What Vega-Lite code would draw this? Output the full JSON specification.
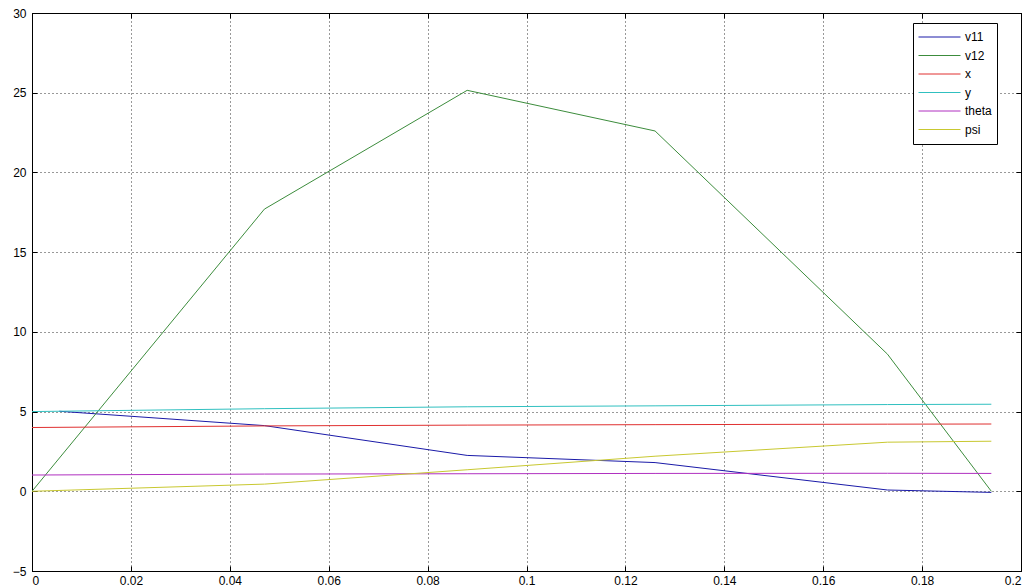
{
  "$schema": "https://vega.github.io/schema/vega-lite/v6.json",
  "width": 989,
  "height": 558,
  "autosize": {"type": "none"},
  "padding": {"left": 32, "top": 13, "right": 8, "bottom": 17},
  "background": "white",
  "config": {
    "view": {"stroke": "black", "strokeWidth": 1},
    "axis": {
      "labelFont": "Liberation Sans",
      "labelFontSize": 12,
      "labelColor": "black",
      "domainColor": "black",
      "tickColor": "black",
      "gridColor": "#333333",
      "gridDash": [1, 3],
      "gridOpacity": 1,
      "title": null
    },
    "legend": {
      "labelFont": "Liberation Sans",
      "labelFontSize": 12,
      "labelColor": "black"
    }
  },
  "data": {
    "values": [
      {"series": "v11", "t": 0.0055, "value": 5.02},
      {"series": "v11", "t": 0.047, "value": 4.12},
      {"series": "v11", "t": 0.088, "value": 2.25},
      {"series": "v11", "t": 0.126, "value": 1.8},
      {"series": "v11", "t": 0.173, "value": 0.08},
      {"series": "v11", "t": 0.194, "value": -0.07},
      {"series": "v12", "t": 0, "value": 0},
      {"series": "v12", "t": 0.047, "value": 17.7},
      {"series": "v12", "t": 0.088, "value": 25.15},
      {"series": "v12", "t": 0.126, "value": 22.6},
      {"series": "v12", "t": 0.173, "value": 8.6},
      {"series": "v12", "t": 0.194, "value": 0},
      {"series": "x", "t": 0, "value": 4.0},
      {"series": "x", "t": 0.047, "value": 4.1},
      {"series": "x", "t": 0.088, "value": 4.15},
      {"series": "x", "t": 0.126, "value": 4.18},
      {"series": "x", "t": 0.173, "value": 4.21},
      {"series": "x", "t": 0.194, "value": 4.22},
      {"series": "y", "t": 0, "value": 5.0},
      {"series": "y", "t": 0.047, "value": 5.18},
      {"series": "y", "t": 0.088, "value": 5.3},
      {"series": "y", "t": 0.126, "value": 5.36},
      {"series": "y", "t": 0.173, "value": 5.44},
      {"series": "y", "t": 0.194, "value": 5.46},
      {"series": "theta", "t": 0, "value": 1.02},
      {"series": "theta", "t": 0.047, "value": 1.08},
      {"series": "theta", "t": 0.088, "value": 1.1},
      {"series": "theta", "t": 0.126, "value": 1.12},
      {"series": "theta", "t": 0.173, "value": 1.13},
      {"series": "theta", "t": 0.194, "value": 1.12},
      {"series": "psi", "t": 0, "value": 0},
      {"series": "psi", "t": 0.047, "value": 0.45},
      {"series": "psi", "t": 0.088, "value": 1.35},
      {"series": "psi", "t": 0.126, "value": 2.2},
      {"series": "psi", "t": 0.173, "value": 3.08},
      {"series": "psi", "t": 0.194, "value": 3.14}
    ]
  },
  "layer": [
    {
      "mark": {"type": "line", "strokeWidth": 1, "clip": true},
      "encoding": {
        "x": {
          "field": "t", "type": "quantitative",
          "scale": {"domain": [0, 0.2], "nice": false, "zero": false},
          "axis": {"orient": "bottom", "values": [0, 0.02, 0.04, 0.06, 0.08, 0.1, 0.12, 0.14, 0.16, 0.18, 0.2], "format": "~g", "tickSize": -5, "labelPadding": 9, "grid": true}
        },
        "y": {
          "field": "value", "type": "quantitative",
          "scale": {"domain": [-5, 30], "nice": false, "zero": false},
          "axis": {"orient": "left", "values": [-5, 0, 5, 10, 15, 20, 25, 30], "tickSize": -5, "labelPadding": 11, "grid": true}
        },
        "color": {
          "field": "series", "type": "nominal",
          "scale": {
            "domain": ["v11", "v12", "x", "y", "theta", "psi"],
            "range": ["#1a1aa8", "#3c8c3c", "#e03030", "#30c0c0", "#b030c0", "#c8c830"]
          },
          "legend": {
            "title": null,
            "orient": "none",
            "legendX": 881,
            "legendY": 10,
            "symbolType": "stroke",
            "symbolSize": 1764,
            "symbolStrokeWidth": 1,
            "labelOffset": 4,
            "padding": 5,
            "clipHeight": 18,
            "rowPadding": 0.5,
            "strokeColor": "black",
            "fillColor": "white",
            "cornerRadius": 0
          }
        }
      }
    },
    {
      "mark": {"type": "line", "opacity": 0},
      "encoding": {
        "x": {
          "field": "t", "type": "quantitative",
          "axis": {"orient": "top", "values": [0, 0.02, 0.04, 0.06, 0.08, 0.1, 0.12, 0.14, 0.16, 0.18, 0.2], "labels": false, "tickSize": -5, "grid": false}
        },
        "y": {
          "field": "value", "type": "quantitative",
          "axis": {"orient": "right", "values": [-5, 0, 5, 10, 15, 20, 25, 30], "labels": false, "tickSize": -5, "grid": false}
        },
        "detail": {"field": "series", "type": "nominal"}
      }
    }
  ],
  "resolve": {"axis": {"x": "independent", "y": "independent"}}
}
